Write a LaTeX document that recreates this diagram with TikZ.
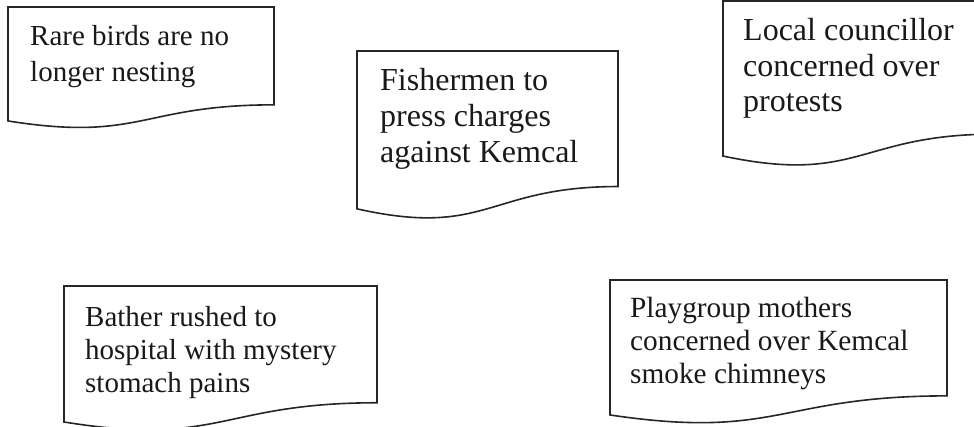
\documentclass[tikz,border=0pt]{standalone}
\usepackage{fontspec}
\setmainfont{Liberation Serif}
\newcommand\drawdoc[4]{%
  \pgfmathsetmacro\dxm{(#1+#2)/2}%
  \pgfmathsetmacro\dyr{#3+0.802*#4}%
  \pgfmathsetmacro\dyl{#3+0.934*#4}%
  \pgfmathsetmacro\dyc{#3+1.1075*#4}%
  \draw[docline] (#1,#3) -- (#2,#3) -- (#2,\dyr) .. controls (\dxm,\dyr) and (\dxm,\dyc) .. (#1,\dyl) -- cycle;%
}
\begin{document}
\begin{tikzpicture}[x=1pt,y=-1pt,
  docline/.style={draw=black!85,line width=1.6pt,line join=miter},
  doctext/.style={anchor=base west,inner sep=0pt,align=left,text=black!90}]
\useasboundingbox (0,0) rectangle (974,427);
\clip (0,0) rectangle (974,427);
\fill[white] (0,0) rectangle (974,427);
\drawdoc{8}{274}{7}{122}
\drawdoc{357}{618}{51}{169}
\drawdoc{723}{995}{1}{166}
\drawdoc{64}{377}{286}{145.6}
\drawdoc{610}{947}{280}{144.5}
\node[doctext,font=\fontsize{29}{36}\selectfont] (t1) at (30,82) {Rare birds are no\\longer nesting};
\node[doctext,font=\fontsize{32}{36}\selectfont] (t2) at (380,163) {Fishermen to\\press charges\\against Kemcal};
\node[doctext,font=\fontsize{32}{35.5}\selectfont] (t3) at (743,112) {Local councillor\\concerned over\\protests};
\node[doctext,font=\fontsize{29}{33}\selectfont] (t4) at (85,392) {Bather rushed to\\hospital with mystery\\stomach pains};
\node[doctext,font=\fontsize{29.3}{33}\selectfont] (t5) at (630,383) {Playgroup mothers\\concerned over Kemcal\\smoke chimneys};
\end{tikzpicture}
\end{document}
